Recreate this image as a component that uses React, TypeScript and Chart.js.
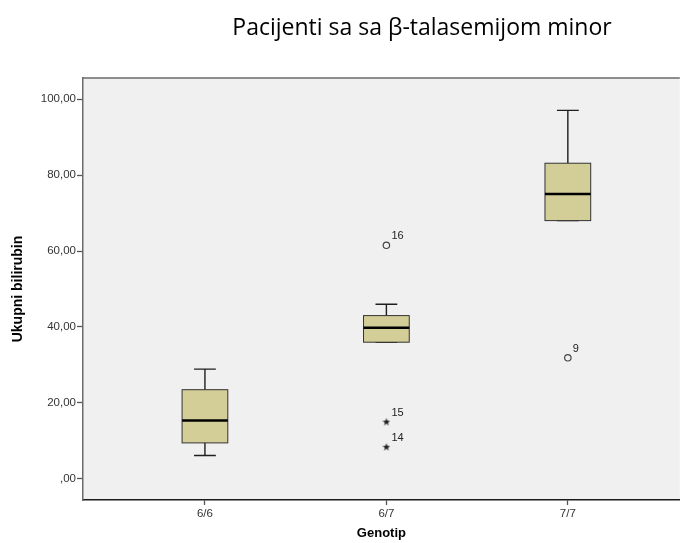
import React, { useEffect, useRef } from 'react';
import { Chart, registerables } from 'chart.js';

Chart.register(...registerables);

// Genotype groups on the x axis
const genotypes = ['6/6', '6/7', '7/7'];

// Five-number summaries of total bilirubin per genotype
const whiskerLow = [6.2, 36.0, 68.0];
const quartile1 = [9.5, 36.0, 68.0];
const medians = [15.4, 39.8, 75.0];
const quartile3 = [23.5, 43.0, 83.1];
const whiskerHigh = [28.9, 46.0, 97.0];

// Outliers (circles): group number, value, case number
const outlierGroup = [2, 3];
const outlierValue = [61.5, 31.9];
const outlierId = ['16', '9'];

// Extreme values (stars): group number, value, case number
const extremeGroup = [2, 2];
const extremeValue = [15.1, 8.5];
const extremeId = ['15', '14'];

const yTicks = [0, 20, 40, 60, 80, 100];

const TITLE = 'Pacijenti sa sa \u03b2-talasemijom minor';
const FONT = "'Liberation Sans', Arial, sans-serif";

const formatComma = (v: number) => (v === 0 ? ',00' : v.toFixed(2).replace('.', ','));

function makeStar(size: number, color: string): HTMLCanvasElement {
  const c = document.createElement('canvas');
  c.width = size;
  c.height = size;
  const g = c.getContext('2d')!;
  const cx = size / 2;
  const cy = size / 2 + 0.4;
  const outer = size / 2;
  const inner = outer * 0.42;
  g.beginPath();
  for (let i = 0; i < 10; i++) {
    const r = i % 2 === 0 ? outer : inner;
    const a = -Math.PI / 2 + (i * Math.PI) / 5;
    const px = cx + r * Math.cos(a);
    const py = cy + r * Math.sin(a);
    if (i === 0) g.moveTo(px, py);
    else g.lineTo(px, py);
  }
  g.closePath();
  g.fillStyle = color;
  g.fill();
  return c;
}

const BOX_HALF = 0.126; // half box width, in x-axis units
const CAP_HALF = 0.06; // half whisker-cap width

const backgroundPlugin = {
  id: 'plotBackground',
  beforeDraw(chart: any) {
    const { ctx, chartArea: a } = chart;
    ctx.save();
    ctx.fillStyle = '#f0f0f0';
    ctx.fillRect(a.left, a.top, a.right - a.left, a.bottom - a.top);
    ctx.strokeStyle = '#6a6a6a';
    ctx.lineWidth = 1.5;
    ctx.beginPath();
    ctx.moveTo(a.left, a.top);
    ctx.lineTo(a.right, a.top);
    ctx.stroke();
    ctx.fillStyle = '#000';
    ctx.font = "23px 'Open Sans', 'Noto Sans', sans-serif";
    ctx.textAlign = 'center';
    ctx.textBaseline = 'alphabetic';
    ctx.fillText(TITLE, 422, 35);
    ctx.restore();
  },
};

const boxPlugin = {
  id: 'boxes',
  beforeDatasetsDraw(chart: any) {
    const { ctx } = chart;
    const xs = chart.scales.x;
    const ys = chart.scales.y;
    ctx.save();
    genotypes.forEach((_, i) => {
      const g = i + 1;
      const cx = xs.getPixelForValue(g);
      const left = xs.getPixelForValue(g - BOX_HALF);
      const right = xs.getPixelForValue(g + BOX_HALF);
      const capL = xs.getPixelForValue(g - CAP_HALF);
      const capR = xs.getPixelForValue(g + CAP_HALF);
      const yMin = ys.getPixelForValue(whiskerLow[i]);
      const yQ1 = ys.getPixelForValue(quartile1[i]);
      const yMed = ys.getPixelForValue(medians[i]);
      const yQ3 = ys.getPixelForValue(quartile3[i]);
      const yMax = ys.getPixelForValue(whiskerHigh[i]);

      // whiskers and caps
      ctx.strokeStyle = '#1e1e1e';
      ctx.lineWidth = 1.4;
      ctx.beginPath();
      ctx.moveTo(cx, yQ3);
      ctx.lineTo(cx, yMax);
      ctx.moveTo(capL, yMax);
      ctx.lineTo(capR, yMax);
      ctx.moveTo(cx, yQ1);
      ctx.lineTo(cx, yMin);
      ctx.moveTo(capL, yMin);
      ctx.lineTo(capR, yMin);
      ctx.stroke();

      // box
      ctx.fillStyle = '#d3ce97';
      ctx.fillRect(left, yQ3, right - left, yQ1 - yQ3);
      ctx.strokeStyle = '#333';
      ctx.lineWidth = 1;
      ctx.strokeRect(left, yQ3, right - left, yQ1 - yQ3);

      // median
      ctx.strokeStyle = '#000';
      ctx.lineWidth = 2.5;
      ctx.beginPath();
      ctx.moveTo(left, yMed);
      ctx.lineTo(right, yMed);
      ctx.stroke();
    });
    ctx.restore();
  },
  afterDatasetsDraw(chart: any) {
    const { ctx } = chart;
    const ids = [outlierId, extremeId];
    ctx.save();
    ctx.fillStyle = '#222';
    ctx.font = `11px ${FONT}`;
    ctx.textAlign = 'left';
    ctx.textBaseline = 'middle';
    ids.forEach((labels, d) => {
      const meta = chart.getDatasetMeta(d);
      meta.data.forEach((pt: any, j: number) => {
        ctx.fillText(labels[j], pt.x + 5, pt.y - 9);
      });
    });
    ctx.restore();
  },
};

export default function App() {
  const canvasRef = useRef<HTMLCanvasElement | null>(null);

  useEffect(() => {
    const canvas = canvasRef.current;
    if (!canvas) return;
    const star = makeStar(8, '#222');

    const chart = new Chart(canvas, {
      type: 'scatter',
      data: {
        datasets: [
          {
            label: 'Outliers',
            data: outlierGroup.map((g, i) => ({ x: g, y: outlierValue[i] })),
            pointStyle: 'circle',
            pointRadius: 3.2,
            borderColor: '#444',
            borderWidth: 1.2,
            backgroundColor: 'rgba(0,0,0,0)',
          },
          {
            label: 'Extremes',
            data: extremeGroup.map((g, i) => ({ x: g, y: extremeValue[i] })),
            pointStyle: star as any,
            pointRadius: 4,
            borderColor: '#222',
            backgroundColor: '#222',
          },
        ],
      },
      options: {
        responsive: false,
        animation: false,
        events: [],
        layout: { padding: { top: 78, left: 0, right: 0, bottom: 0 } },
        plugins: {
          legend: { display: false },
          tooltip: { enabled: false },
          title: { display: false },
        },
        scales: {
          x: {
            type: 'linear',
            min: 0.328,
            max: 3.617,
            afterBuildTicks: (s: any) => {
              s.ticks = genotypes.map((_, i) => ({ value: i + 1 }));
            },
            afterFit: (s: any) => {
              s.height = 43;
            },
            ticks: {
              callback: (v: any) => genotypes[Number(v) - 1] ?? '',
              color: '#333',
              font: { family: FONT, size: 11.5 },
              padding: 2,
              maxRotation: 0,
            },
            grid: {
              drawOnChartArea: false,
              drawTicks: true,
              tickLength: 5,
              tickWidth: 1.3,
              tickColor: '#555',
            },
            border: { display: true, color: '#1a1a1a', width: 1.5 },
            title: {
              display: true,
              text: 'Genotip',
              color: '#000',
              font: { family: FONT, size: 13, weight: 'bold' },
              padding: { top: 0, bottom: 2 },
            },
          },
          y: {
            type: 'linear',
            min: -5.53,
            max: 105.53,
            afterBuildTicks: (s: any) => {
              s.ticks = yTicks.map((v) => ({ value: v }));
            },
            afterFit: (s: any) => {
              s.width = 83;
            },
            ticks: {
              callback: (v: any) => formatComma(Number(v)),
              color: '#333',
              font: { family: FONT, size: 11.5 },
              padding: 1,
            },
            grid: {
              drawOnChartArea: false,
              drawTicks: true,
              tickLength: 6,
              tickWidth: 1.3,
              tickColor: '#555',
            },
            border: { display: true, color: '#6a6a6a', width: 1.5 },
            title: {
              display: true,
              text: 'Ukupni bilirubin',
              color: '#000',
              font: { family: FONT, size: 14, weight: 'bold' },
              padding: { top: 10, bottom: 0 },
            },
          },
        },
      },
      plugins: [backgroundPlugin, boxPlugin],
    });

    return () => chart.destroy();
  }, []);

  return (
    <div style={{ position: 'absolute', left: 0, top: 0, width: 685, height: 543, background: '#fff' }}>
      <canvas ref={canvasRef} width={685} height={543} style={{ display: 'block' }} />
    </div>
  );
}
